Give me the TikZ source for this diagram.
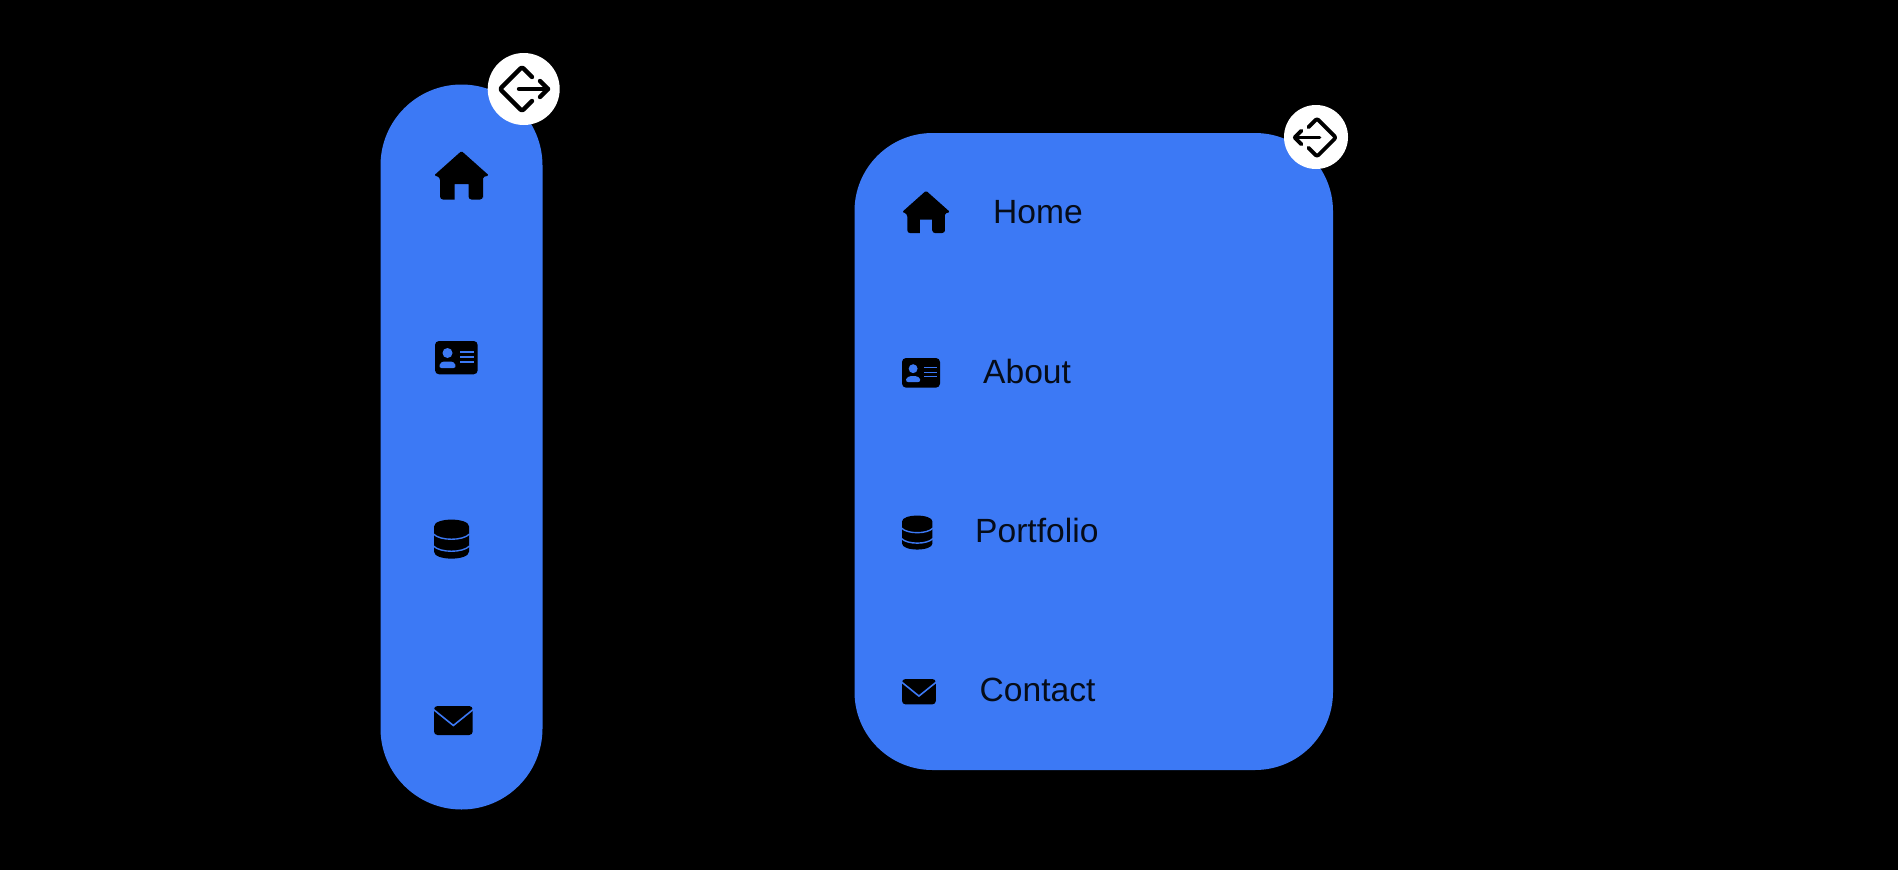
\documentclass[tikz,border=0pt]{standalone}
\usepackage{fontspec}
\setmainfont{Liberation Sans}
\definecolor{panelblue}{HTML}{3C79F5}
\tikzset{
  panel/.style={fill=panelblue,draw=none},
  badge/.style={circle,fill=white,draw=none,inner sep=0pt,minimum size=#1},
  label/.style={anchor=base west,inner sep=0pt,font=\fontsize{33.6}{36}\selectfont,text=black!90!panelblue},
  exit/.style={draw=black,fill=none,line width=4.4pt,line cap=round,line join=round,rounded corners=2pt}
}
\newcommand{\homeicon}[3]{\begin{scope}[shift={(#1,#2)},scale=#3]
  \fill[black,rounded corners=1.5pt] (27.5,0) -- (55,24.5) -- (49,26) -- (49,45) [rounded corners=3pt] -- (49,48.5) -- (34.5,48.5) [sharp corners] -- (34.5,33) -- (20.5,33) -- (20.5,48.5) [rounded corners=3pt] -- (6,48.5) -- (6,26) [rounded corners=1.5pt] -- (0,24.5) -- cycle;
\end{scope}}
\newcommand{\cardicon}[3]{\begin{scope}[shift={(#1,#2)},scale=#3]
  \fill[black,rounded corners=4pt] (0,0) rectangle (42.7,33.3);
  \fill[panelblue] (12.5,12) circle (5);
  \fill[panelblue,rounded corners=3pt] (3.5,27) -- (6,20.5) -- (19,20.5) -- (21.5,27) -- cycle;
  \draw[panelblue,line width=1.3pt] (25,11) -- (39,11) (25,16) -- (39,16) (25,21) -- (39,21);
\end{scope}}
\newcommand{\dbicon}[3]{\begin{scope}[shift={(#1,#2)},scale=#3]
  \fill[black] (0,7) -- (0,32) .. controls (0,41.5) and (35,41.5) .. (35,32) -- (35,7) .. controls (35,-2.2) and (0,-2.2) .. (0,7) -- cycle;
  \draw[panelblue,line width=1.4pt] (-.5,14.5) .. controls (6,21.5) and (29,21.5) .. (35.5,14.5);
  \draw[panelblue,line width=1.4pt] (-.5,26.5) .. controls (6,33.5) and (29,33.5) .. (35.5,26.5);
\end{scope}}
\newcommand{\mailicon}[3]{\begin{scope}[shift={(#1,#2)},scale=#3]
  \fill[black,rounded corners=3.5pt] (0,0) rectangle (38.7,29);
  \draw[panelblue,line width=1.6pt] (-.5,3.5) -- (19.35,19.5) -- (39.2,3.5);
\end{scope}}
\begin{document}
\begin{tikzpicture}[x=1pt,y=-1pt]
\fill[black] (0,0) rectangle (1898,870);
\useasboundingbox (0,0) rectangle (1898,870);
% left rail
\fill[panel,rounded corners=81pt] (380.5,84.5) rectangle (542.5,809.5);
\node[badge=72pt] (railbadge) at (523.7,89) {};
\begin{scope}[shift={(522,89)}]
  \draw[exit] (10,-12) -- (0,-22) -- (-22,0) -- (0,22) -- (10,12);
  \draw[exit,rounded corners=0pt] (-3,0) -- (26,0);
  \draw[exit,rounded corners=0pt] (18,-8) -- (26,0) -- (18,8);
\end{scope}
\homeicon{434}{151}{1}
\cardicon{435}{341}{1}
\dbicon{434}{519.5}{1}
\mailicon{434}{706}{1}
% right panel
\fill[panel,rounded corners=78pt] (854.5,133) rectangle (1333,770);
\node[badge=64pt] (panelbadge) at (1316,137) {};
\begin{scope}[shift={(1317,137.5)},xscale=-.86,yscale=.86]
  \draw[exit,line width=3.8pt] (10,-12) -- (0,-22) -- (-22,0) -- (0,22) -- (10,12);
  \draw[exit,line width=3.8pt,rounded corners=0pt] (-3,0) -- (26,0);
  \draw[exit,line width=3.8pt,rounded corners=0pt] (18,-8) -- (26,0) -- (18,8);
\end{scope}
\homeicon{902}{190.7}{.875}
\cardicon{902}{358}{.89}
\dbicon{902}{515.5}{.87}
\mailicon{902}{679}{.875}
\node[label] (home) at (993,223.5) {Home};
\node[label] (about) at (983,383.5) {About};
\node[label] (portfolio) at (975,542.5) {Portfolio};
\node[label] (contact) at (979.5,701.5) {Contact};
\end{tikzpicture}
\end{document}
